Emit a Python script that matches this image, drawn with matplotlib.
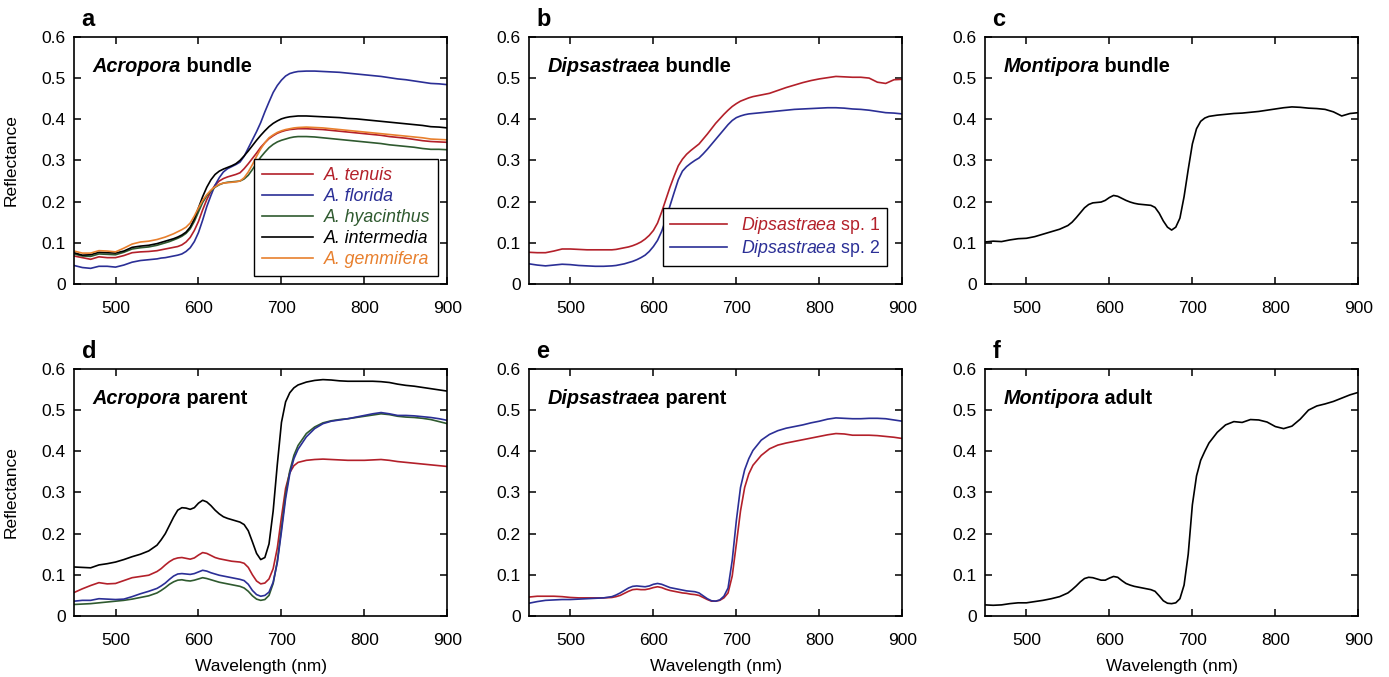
import matplotlib
matplotlib.use("Agg")
import matplotlib.pyplot as plt

plt.rcParams['font.family'] = ['Liberation Sans', 'DejaVu Sans']
plt.rcParams['mathtext.fontset'] = 'custom'
plt.rcParams['mathtext.rm'] = 'Liberation Sans'
plt.rcParams['mathtext.it'] = 'Liberation Sans:italic'
plt.rcParams['mathtext.bf'] = 'Liberation Sans:bold'

########
# DATA #
########
# wavelength grid (nm): 10 nm steps, 5 nm steps across the red-edge region
WL = ([450, 460, 470, 480, 490, 500, 510, 520, 530, 540, 550]
      + [555, 560, 565, 570, 575, 580, 585, 590, 595, 600, 605, 610, 615, 620, 625, 630, 635,
         640, 645, 650, 655, 660, 665, 670, 675, 680, 685, 690, 695, 700, 705, 710, 715, 720]
      + [730, 740, 750, 760, 770, 780, 790, 800, 810, 820, 830, 840, 850, 860, 870, 880, 890, 900])

# a - Acropora bundle
a_tenuis = [.068, .064, .060, .066, .064, .064, .069, .076, .078, .079, .081,
            .083, .085, .087, .089, .091, .095, .102, .113, .130, .152, .180, .205, .225, .240, .250, .256, .260,
            .263, .266, .270, .280, .292, .305, .318, .332, .343, .353, .360, .366, .370, .373, .375, .376, .377,
            .377, .376, .375, .373, .371, .369, .367, .365, .363, .361, .358, .356, .354, .351, .348, .346, .345, .344]
a_florida = [.045, .040, .038, .043, .043, .041, .046, .053, .057, .059, .061,
             .063, .064, .066, .068, .070, .073, .079, .088, .103, .125, .155, .188, .215, .240, .258, .272, .280,
             .285, .290, .296, .310, .330, .350, .370, .392, .418, .442, .465, .482, .495, .505, .511, .514, .516,
             .517, .517, .516, .515, .514, .512, .510, .508, .506, .504, .501, .498, .496, .493, .490, .487, .486, .484]
a_hyacinthus = [.073, .068, .067, .073, .072, .071, .077, .085, .088, .090, .094,
                .097, .100, .103, .107, .111, .116, .123, .134, .152, .175, .198, .214, .226, .235, .241, .245, .247,
                .248, .249, .250, .255, .264, .278, .293, .308, .320, .331, .339, .345, .349, .352, .355, .357, .358,
                .358, .357, .355, .353, .351, .349, .347, .345, .343, .341, .338, .336, .334, .332, .329, .327, .327, .326]
a_intermedia = [.076, .070, .071, .077, .076, .075, .080, .089, .092, .094, .098,
                .101, .104, .107, .110, .114, .119, .126, .138, .158, .185, .212, .235, .253, .266, .274, .279, .283,
                .287, .292, .300, .311, .323, .336, .349, .361, .372, .382, .390, .396, .401, .404, .406, .407, .408,
                .408, .407, .406, .405, .404, .402, .401, .399, .397, .395, .393, .391, .389, .387, .385, .382, .381, .379]
a_gemmifera = [.080, .075, .075, .081, .080, .078, .087, .097, .102, .104, .108,
               .111, .114, .118, .122, .127, .132, .138, .148, .165, .185, .203, .217, .228, .236, .242, .245, .246,
               .247, .248, .250, .258, .272, .290, .310, .328, .343, .355, .362, .368, .372, .375, .377, .379, .380,
               .381, .380, .379, .377, .375, .373, .371, .369, .367, .365, .363, .361, .359, .357, .355, .352, .351, .350]

# b - Dipsastraea bundle
b_sp1 = [.077, .076, .076, .080, .085, .085, .084, .083, .083, .083, .083,
         .084, .086, .088, .090, .093, .097, .102, .109, .118, .130, .148, .175, .205, .235, .262, .287, .303,
         .315, .324, .332, .340, .352, .364, .377, .390, .401, .412, .422, .431, .438, .444, .448, .452, .455,
         .459, .463, .470, .477, .483, .489, .494, .498, .501, .504, .503, .502, .502, .500, .490, .487, .496, .497]
b_sp2 = [.049, .046, .044, .046, .048, .047, .045, .044, .043, .043, .044,
         .045, .047, .049, .052, .055, .059, .064, .070, .079, .091, .106, .128, .157, .190, .222, .253, .274,
         .285, .293, .300, .306, .316, .327, .339, .351, .363, .375, .387, .397, .404, .408, .411, .413, .414,
         .416, .418, .420, .422, .424, .425, .426, .427, .428, .428, .427, .425, .424, .422, .419, .416, .415, .413]

# c - Montipora bundle
c_montipora = [.102, .104, .103, .107, .110, .111, .115, .121, .127, .133, .142,
               .150, .161, .173, .185, .193, .197, .198, .199, .203, .210, .215, .213, .208, .203, .199, .196, .194,
               .193, .192, .191, .186, .172, .153, .138, .131, .138, .160, .212, .278, .340, .377, .395, .403, .407,
               .410, .412, .414, .415, .417, .419, .422, .425, .428, .430, .429, .427, .426, .424, .418, .408, .414, .416]

# d - Acropora parent (black, red, blue, green)
d_black = [.119, .118, .117, .124, .127, .131, .137, .144, .150, .158, .172,
           .185, .200, .220, .240, .257, .263, .262, .259, .263, .274, .281, .277, .268, .257, .248, .241, .237,
           .234, .231, .228, .222, .207, .180, .152, .137, .142, .175, .255, .368, .470, .520, .542, .554, .561,
           .568, .572, .574, .573, .571, .570, .570, .570, .570, .569, .567, .563, .560, .558, .555, .552, .549, .546]
d_red = [.057, .066, .074, .081, .078, .079, .086, .093, .096, .099, .108,
         .115, .124, .132, .138, .141, .142, .140, .138, .141, .148, .154, .152, .147, .142, .139, .137, .135,
         .133, .132, .131, .128, .118, .100, .085, .078, .080, .090, .115, .165, .240, .310, .348, .365, .373,
         .378, .380, .381, .380, .379, .378, .378, .378, .379, .380, .378, .375, .373, .371, .369, .367, .365, .363]
d_blue = [.036, .038, .038, .042, .041, .040, .041, .047, .054, .060, .067,
          .073, .080, .089, .097, .102, .103, .102, .101, .103, .107, .111, .109, .105, .102, .099, .097, .095,
          .093, .091, .089, .086, .077, .062, .052, .048, .050, .058, .082, .130, .205, .285, .345, .382, .405,
          .435, .455, .467, .473, .476, .479, .483, .487, .491, .494, .491, .487, .487, .486, .484, .482, .479, .475]
d_green = [.028, .029, .030, .032, .034, .036, .038, .041, .045, .049, .056,
           .062, .069, .077, .083, .087, .088, .086, .085, .087, .090, .093, .091, .088, .085, .082, .080, .078,
           .076, .074, .072, .068, .060, .049, .041, .038, .040, .050, .079, .133, .213, .295, .352, .390, .414,
           .443, .459, .469, .474, .477, .479, .482, .485, .488, .491, .489, .485, .483, .482, .480, .477, .472, .467]

# e - Dipsastraea parent
e_red = [.046, .048, .048, .048, .047, .045, .044, .044, .044, .044, .045,
         .047, .050, .055, .060, .064, .065, .064, .064, .066, .069, .071, .069, .065, .062, .060, .058, .056,
         .055, .053, .052, .050, .045, .040, .036, .036, .038, .044, .056, .097, .175, .255, .312, .345, .366,
         .390, .406, .415, .420, .424, .428, .432, .436, .440, .443, .442, .439, .439, .439, .438, .436, .434, .431]
e_blue = [.031, .035, .038, .039, .040, .040, .041, .042, .043, .044, .047,
          .051, .056, .062, .068, .072, .073, .072, .071, .073, .077, .079, .077, .073, .069, .067, .065, .063,
          .061, .060, .059, .056, .049, .042, .037, .036, .039, .048, .068, .135, .232, .312, .355, .382, .402,
          .427, .441, .450, .456, .460, .464, .469, .473, .478, .481, .480, .479, .479, .480, .480, .479, .476, .473]

# f - Montipora adult
f_montipora = [.027, .026, .027, .030, .032, .032, .035, .038, .042, .047, .056,
               .064, .073, .083, .091, .094, .093, .090, .087, .087, .092, .096, .094, .086, .079, .075, .072, .070,
               .068, .066, .064, .060, .049, .037, .031, .030, .032, .042, .075, .150, .270, .340, .378, .400, .420,
               .446, .464, .472, .470, .477, .476, .471, .460, .455, .461, .478, .500, .510, .515, .521, .529, .537, .543]

RED = '#b3202a'
BLUE = '#2b2f96'
GREEN = '#2f5a2f'
ORANGE = '#e8802e'
BLACK = '#000000'

########
# PLOT #
########
fig = plt.figure(figsize=(13.89, 6.77), dpi=100)

lefts = [0.0533, 0.3808, 0.7091]
width = 0.2688
top_bottom, bot_bottom = 0.5805, 0.0901
height = 0.365

axes = []
for b in [top_bottom, bot_bottom]:
    for l in lefts:
        axes.append(fig.add_axes([l, b, width, height]))


def style(ax, letter):
    ax.set_xlim(450, 900)
    ax.set_ylim(0, 0.6)
    ax.set_xticks([500, 600, 700, 800, 900])
    ax.set_yticks([0, 0.1, 0.2, 0.3, 0.4, 0.5, 0.6])
    ax.set_yticklabels(['0', '0.1', '0.2', '0.3', '0.4', '0.5', '0.6'])
    ax.tick_params(direction='in', top=True, right=True, length=5, width=1.1, labelsize=12.5)
    ax.tick_params(axis='x', pad=12)
    ax.tick_params(axis='y', pad=6)
    for s in ax.spines.values():
        s.set_linewidth(1.2)
    ax.text(0.02, 1.025, letter, transform=ax.transAxes, fontsize=17, fontweight='bold', va='bottom')


def panel_title(ax, genus, rest):
    t = ax.text(0.05, 0.84, genus, transform=ax.transAxes, fontsize=14.3,
                fontweight='bold', style='italic', va='bottom')
    ax.annotate(' ' + rest, xy=(1, 0), xycoords=t, fontsize=14.3,
                fontweight='bold', va='bottom', ha='left')


lw = 1.2

# a
ax = axes[0]
ax.plot(WL, a_tenuis, color=RED, lw=lw, label='A. tenuis')
ax.plot(WL, a_florida, color=BLUE, lw=lw, label='A. florida')
ax.plot(WL, a_hyacinthus, color=GREEN, lw=lw, label='A. hyacinthus')
ax.plot(WL, a_intermedia, color=BLACK, lw=lw, label='A. intermedia')
ax.plot(WL, a_gemmifera, color=ORANGE, lw=lw, label='A. gemmifera')
leg = ax.legend(loc='lower right', bbox_to_anchor=(0.976, 0.033), borderaxespad=0,
                fancybox=False, edgecolor='black', framealpha=1, handlelength=2.9,
                labelspacing=0.22, borderpad=0.45, handletextpad=0.6,
                prop={'size': 12.8, 'style': 'italic'})
leg.get_frame().set_linewidth(1.0)
for txt, line in zip(leg.get_texts(), leg.get_lines()):
    txt.set_color(line.get_color())
style(ax, 'a')
panel_title(ax, 'Acropora', 'bundle')
ax.set_ylabel('Reflectance', fontsize=12.5)
ax.yaxis.set_label_coords(-0.148, 0.5)

# b
ax = axes[1]
ax.plot(WL, b_sp1, color=RED, lw=lw, label=r'$\mathit{Dipsastraea}$ sp. 1')
ax.plot(WL, b_sp2, color=BLUE, lw=lw, label=r'$\mathit{Dipsastraea}$ sp. 2')
leg = ax.legend(loc='lower right', bbox_to_anchor=(0.96, 0.073), borderaxespad=0,
                fancybox=False, edgecolor='black', framealpha=1, handlelength=3.2,
                labelspacing=0.1, borderpad=0.4, prop={'size': 12.8})
leg.get_frame().set_linewidth(1.0)
for txt, line in zip(leg.get_texts(), leg.get_lines()):
    txt.set_color(line.get_color())
style(ax, 'b')
panel_title(ax, 'Dipsastraea', 'bundle')

# c
ax = axes[2]
ax.plot(WL, c_montipora, color=BLACK, lw=lw)
style(ax, 'c')
panel_title(ax, 'Montipora', 'bundle')

# d
ax = axes[3]
ax.plot(WL, d_black, color=BLACK, lw=lw)
ax.plot(WL, d_red, color=RED, lw=lw)
ax.plot(WL, d_green, color=GREEN, lw=lw)
ax.plot(WL, d_blue, color=BLUE, lw=lw)
style(ax, 'd')
panel_title(ax, 'Acropora', 'parent')
ax.set_ylabel('Reflectance', fontsize=12.5)
ax.yaxis.set_label_coords(-0.148, 0.5)

# e
ax = axes[4]
ax.plot(WL, e_red, color=RED, lw=lw)
ax.plot(WL, e_blue, color=BLUE, lw=lw)
style(ax, 'e')
panel_title(ax, 'Dipsastraea', 'parent')

# f
ax = axes[5]
ax.plot(WL, f_montipora, color=BLACK, lw=lw)
style(ax, 'f')
panel_title(ax, 'Montipora', 'adult')

for ax in axes[3:]:
    ax.set_xlabel('Wavelength (nm)', fontsize=12.5)
    ax.xaxis.set_label_coords(0.5, -0.175)

fig.savefig('out.png', dpi=100)
